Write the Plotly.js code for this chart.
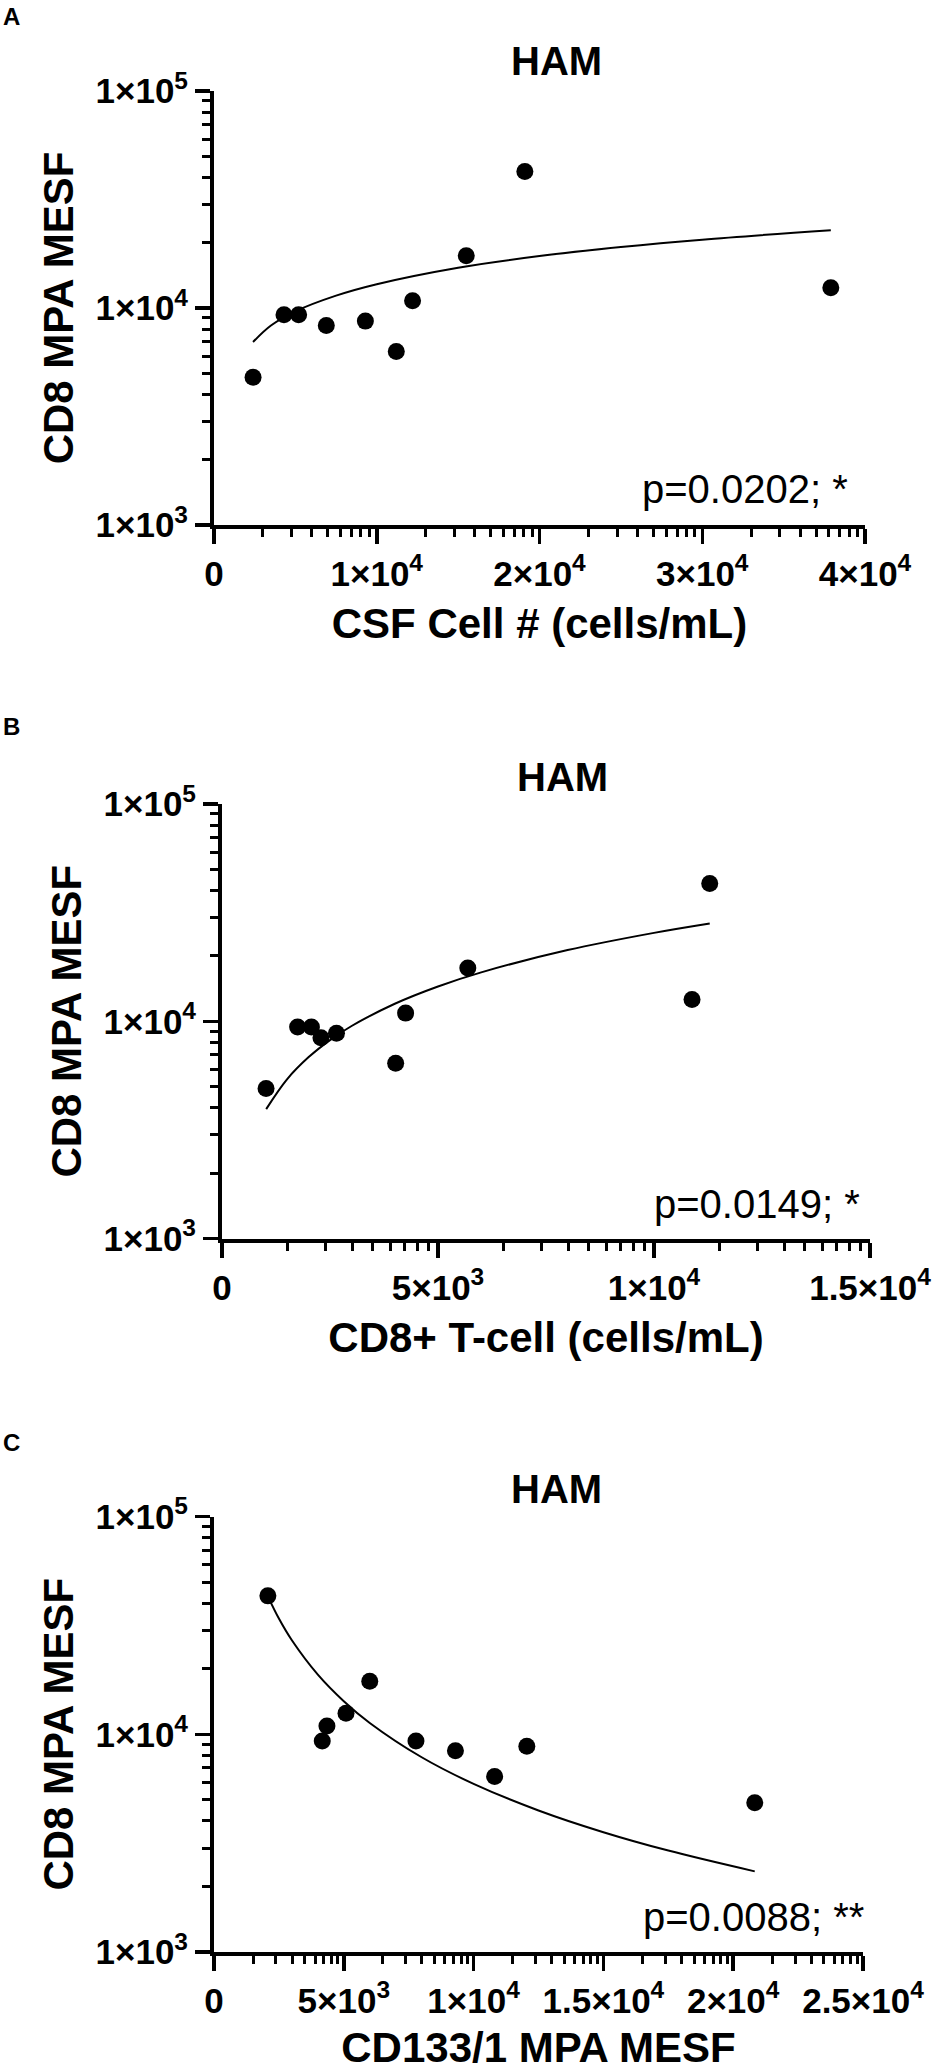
<!DOCTYPE html>
<html>
<head>
<meta charset="utf-8">
<script src="https://cdn.plot.ly/plotly-3.0.1.min.js"></script>
<style>
  html, body { margin: 0; padding: 0; background: #fff; }
  #chart { width: 938px; height: 2071px; }
</style>
</head>
<body>
<div id="chart"></div>
<script>
// ---------- Data ----------
// Panel A: CSF cell count vs CD8 MPA MESF
const csfCells      = [2400, 4300, 5200, 6900, 9300, 11200, 12200, 15500, 19100, 37900];
const cd8MesfA      = [4800, 9300, 9300, 8300, 8700, 6300, 10800, 17400, 42600, 12400];
const fitA_x        = [2400, 3500, 5000, 7500, 10000, 15000, 20000, 25000, 30000, 37900];
const fitA_y        = [6970, 8300, 9650, 11400, 12870, 15330, 17350, 19090, 20650, 22830];

// Panel B: CD8+ T-cell count vs CD8 MPA MESF
const cd8Tcells     = [1020, 1750, 2070, 2290, 2650, 4020, 4250, 5690, 10880, 11290];
const cd8MesfB      = [4900, 9400, 9400, 8400, 8800, 6400, 10900, 17600, 12600, 43100];
const fitB_x        = [1023, 1500, 2000, 2500, 3000, 4000, 5000, 6000, 8000, 10000, 11290];
const fitB_y        = [3940, 5390, 6820, 8190, 9510, 12040, 14460, 16790, 21260, 25520, 28190];

// Panel C: CD133/1 MPA MESF vs CD8 MPA MESF
const cd133Mesf     = [2075, 4170, 4350, 5085, 6000, 7780, 9300, 10810, 12050, 20830];
const cd8MesfC      = [43200, 9300, 10900, 12500, 17500, 9300, 8400, 6400, 8800, 4850];
const fitC_x        = [2075, 2500, 3000, 4000, 5000, 6000, 8000, 10000, 12500, 15000, 17500, 20830];
const fitC_y        = [43000, 34000, 27020, 18790, 14190, 11270, 7840, 5918, 4468, 3550, 2923, 2346];

// Tick values and labels
const yTickVals  = [1e3, 1e4, 1e5];
const yTickText  = ['1×10<sup>3</sup>', '1×10<sup>4</sup>', '1×10<sup>5</sup>'];
const yMinorVals = [2e3,3e3,4e3,5e3,6e3,7e3,8e3,9e3, 2e4,3e4,4e4,5e4,6e4,7e4,8e4,9e4];

const xTickValsA = [0, 1e4, 2e4, 3e4, 4e4];
const xTickTextA = ['0', '1×10<sup>4</sup>', '2×10<sup>4</sup>', '3×10<sup>4</sup>', '4×10<sup>4</sup>'];
const xTickValsB = [0, 5e3, 1e4, 1.5e4];
const xTickTextB = ['0', '5×10<sup>3</sup>', '1×10<sup>4</sup>', '1.5×10<sup>4</sup>'];
const xTickValsC = [0, 5e3, 1e4, 1.5e4, 2e4, 2.5e4];
const xTickTextC = ['0', '5×10<sup>3</sup>', '1×10<sup>4</sup>', '1.5×10<sup>4</sup>', '2×10<sup>4</sup>', '2.5×10<sup>4</sup>'];

const panelLetters = ['A', 'B', 'C'];
const panelTitles  = ['HAM', 'HAM', 'HAM'];
const xTitles      = ['CSF Cell # (cells/mL)', 'CD8+ T-cell (cells/mL)', 'CD133/1 MPA MESF'];
const yTitle       = 'CD8 MPA MESF';
const pTexts       = ['p=0.0202; *', 'p=0.0149; *', 'p=0.0088; **'];

// ---------- Layout helpers ----------
const W = 938, H = 2071;
const fx = v => v / W;
const fy = v => 1 - v / H;
const FONT = '"Liberation Sans", Arial, Helvetica, sans-serif';

// GraphPad-style minor ticks: log-spaced inside each major interval
function logMinor(majors) {
  const out = [];
  for (let i = 0; i < majors.length - 1; i++) {
    const step = majors[i + 1] - majors[i];
    for (let k = 2; k <= 9; k++) out.push(majors[i] + Math.log10(k) * step);
  }
  return out;
}

function xAxis(domainPx, range, tv, tt, title, anchor) {
  return {
    domain: [fx(domainPx[0]), fx(domainPx[1])],
    range: range, anchor: anchor, type: 'linear',
    showgrid: false, zeroline: false,
    showline: true, linecolor: '#000', linewidth: 4,
    ticks: 'outside', ticklen: 15, tickwidth: 3.5, tickcolor: '#000',
    tickmode: 'array', tickvals: tv, ticktext: tt,
    tickfont: { family: FONT, size: 35, color: '#000', weight: 'bold' },
    minor: { tickmode: 'array', tickvals: logMinor(tv), ticks: 'outside',
             ticklen: 8, tickwidth: 3, tickcolor: '#000', showgrid: false },
    title: { text: title, standoff: 18,
             font: { family: FONT, size: 42, color: '#000', weight: 'bold' } },
    fixedrange: true
  };
}

function yAxis(domainPx, anchor) {
  return {
    domain: [fy(domainPx[1]), fy(domainPx[0])],
    type: 'log', range: [3, 5], anchor: anchor,
    showgrid: false, zeroline: false,
    showline: true, linecolor: '#000', linewidth: 4,
    ticks: 'outside', ticklen: 15, tickwidth: 3.5, tickcolor: '#000',
    tickmode: 'array', tickvals: yTickVals, ticktext: yTickText,
    tickfont: { family: FONT, size: 35, color: '#000', weight: 'bold' },
    minor: { tickmode: 'array', tickvals: yMinorVals, ticks: 'outside',
             ticklen: 8, tickwidth: 3, tickcolor: '#000', showgrid: false },
    title: { text: yTitle, standoff: 10,
             font: { family: FONT, size: 42, color: '#000', weight: 'bold' } },
    fixedrange: true
  };
}

function pointsTrace(x, y, xa, ya) {
  return { x: x, y: y, xaxis: xa, yaxis: ya, type: 'scatter', mode: 'markers',
           marker: { size: 17, color: '#000' }, hoverinfo: 'x+y', showlegend: false };
}
function fitTrace(x, y, xa, ya) {
  return { x: x, y: y, xaxis: xa, yaxis: ya, type: 'scatter', mode: 'lines',
           line: { color: '#000', width: 2, shape: 'spline', smoothing: 1 },
           hoverinfo: 'skip', showlegend: false };
}

const data = [
  fitTrace(fitA_x, fitA_y, 'x', 'y'),
  pointsTrace(csfCells, cd8MesfA, 'x', 'y'),
  fitTrace(fitB_x, fitB_y, 'x2', 'y2'),
  pointsTrace(cd8Tcells, cd8MesfB, 'x2', 'y2'),
  fitTrace(fitC_x, fitC_y, 'x3', 'y3'),
  pointsTrace(cd133Mesf, cd8MesfC, 'x3', 'y3')
];

// panel geometry in pixels: [left, right], [top, bottom]
const panX = [[214, 865], [222, 870], [214, 863]];
const panY = [[91, 525], [804, 1238.5], [1516.5, 1952]];
const titlePos  = [[556, 61], [562, 777], [556, 1489]];
const letterPos = [[11, 16], [11, 726], [11, 1442]];
const pPos      = [[850, 489], [862, 1204], [866, 1917]];

const annotations = [];
for (let i = 0; i < 3; i++) {
  annotations.push({ xref: 'paper', yref: 'paper', x: fx(titlePos[i][0]), y: fy(titlePos[i][1]),
    xanchor: 'center', yanchor: 'middle', showarrow: false, text: panelTitles[i],
    font: { family: FONT, size: 40, color: '#000', weight: 'bold' } });
  annotations.push({ xref: 'paper', yref: 'paper', x: fx(letterPos[i][0]), y: fy(letterPos[i][1]),
    xanchor: 'center', yanchor: 'middle', showarrow: false, text: panelLetters[i],
    font: { family: FONT, size: 24, color: '#000', weight: 'bold' } });
  annotations.push({ xref: 'paper', yref: 'paper', x: fx(pPos[i][0]), y: fy(pPos[i][1]),
    xanchor: 'right', yanchor: 'middle', showarrow: false, text: pTexts[i],
    font: { family: FONT, size: 40, color: '#000' } });
}

const layout = {
  width: W, height: H,
  margin: { l: 0, r: 0, t: 0, b: 0, pad: 0 },
  paper_bgcolor: '#fff', plot_bgcolor: 'rgba(0,0,0,0)',
  showlegend: false,
  xaxis:  xAxis(panX[0], [0, 40000], xTickValsA, xTickTextA, xTitles[0], 'y'),
  yaxis:  yAxis(panY[0], 'x'),
  xaxis2: xAxis(panX[1], [0, 15000], xTickValsB, xTickTextB, xTitles[1], 'y2'),
  yaxis2: yAxis(panY[1], 'x2'),
  xaxis3: xAxis(panX[2], [0, 25000], xTickValsC, xTickTextC, xTitles[2], 'y3'),
  yaxis3: yAxis(panY[2], 'x3'),
  annotations: annotations
};

Plotly.newPlot('chart', data, layout, { staticPlot: true, displayModeBar: false });
</script>
</body>
</html>
